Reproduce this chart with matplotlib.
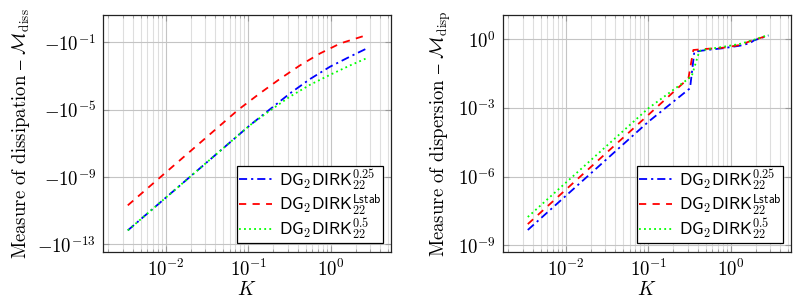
import numpy as np
import matplotlib
matplotlib.use('Agg')
import matplotlib.pyplot as plt
from matplotlib.ticker import FixedLocator, LogLocator, FuncFormatter, NullLocator, NullFormatter

plt.rcParams['mathtext.fontset'] = 'cm'
plt.rcParams['font.family'] = ['cmr10', 'DejaVu Serif']
plt.rcParams['axes.formatter.use_mathtext'] = True
plt.rcParams['axes.unicode_minus'] = False

labels = [r'$\mathsf{DG}_\mathsf{2}\mathsf{DIRK}_{\mathsf{22}}^{0.25}$',
          r'$\mathsf{DG}_\mathsf{2}\mathsf{DIRK}_{\mathsf{22}}^{\mathsf{Lstab}}$',
          r'$\mathsf{DG}_\mathsf{2}\mathsf{DIRK}_{\mathsf{22}}^{0.5}$']

# dissipation (magnitude, values are negative)
K_diss_blue = [3.47e-3, 0.105, 0.184, 0.321, 0.561, 0.979, 1.71, 2.86]
M_diss_blue = [6.8e-13, 1.2e-6, 1.07e-5, 9.3e-5, 6.6e-4, 3.55e-3, 1.41e-2, 4.8e-2]
K_diss_red = [3.47e-3, 0.0456, 0.0759, 0.139, 0.243, 0.425, 0.743, 1.30, 2.74]
M_diss_red = [2.09e-11, 1.15e-6, 1.0e-5, 9.5e-5, 6.8e-4, 4.3e-3, 2.19e-2, 8.5e-2, 0.27]
K_diss_green = [3.47e-3, 0.105, 0.184, 0.321, 0.561, 0.979, 1.71, 2.86]
M_diss_green = [6.8e-13, 1.2e-6, 8.9e-6, 6.0e-5, 3.0e-4, 1.17e-3, 4.2e-3, 1.26e-2]

# dispersion
K_disp_blue = [3.47e-3, 0.1, 0.321, 0.362, 0.512, 0.815, 1.30, 1.71, 1.91, 2.86]
M_disp_blue = [4.6e-9, 2.45e-4, 7.2e-3, 0.288, 0.339, 0.407, 0.525, 0.676, 0.89, 1.45]
K_disp_red = [3.47e-3, 0.1, 0.307, 0.352, 0.512, 0.815, 1.30, 1.88, 2.86]
M_disp_red = [8.3e-9, 4.9e-4, 1.95e-2, 0.339, 0.380, 0.427, 0.562, 0.93, 1.45]
K_disp_green = [3.47e-3, 0.1, 0.336, 0.417, 0.512, 0.815, 1.30, 1.88, 2.86]
M_disp_green = [1.7e-8, 9.5e-4, 2.4e-2, 0.309, 0.363, 0.468, 0.631, 0.93, 1.55]

styles = [dict(color='#0000ff', ls=(0, (4.5, 2.2, 1.2, 2.2))),
          dict(color='#ff0000', ls=(0, (4, 3.5))),
          dict(color='#00ff00', ls=(0, (1, 1.8)))]

fig = plt.figure(figsize=(7.93, 3.05), dpi=100)
ax1 = fig.add_axes([103 / 793, 1 - 252 / 305, 288 / 793, 237 / 305])
ax2 = fig.add_axes([503 / 793, 1 - 252 / 305, 288 / 793, 237 / 305])

diss = [(K_diss_blue, M_diss_blue), (K_diss_red, M_diss_red), (K_diss_green, M_diss_green)]
disp = [(K_disp_blue, M_disp_blue), (K_disp_red, M_disp_red), (K_disp_green, M_disp_green)]

for ax, data in [(ax1, diss), (ax2, disp)]:
    for (k, m), st, lab in zip(data, styles, labels):
        ax.plot(k, m, lw=1.3, label=lab, **st)
    ax.set_xscale('log')
    ax.set_yscale('log')
    ax.set_xlim(10 ** -2.76, 10 ** 0.73)
    ax.xaxis.set_major_locator(FixedLocator([1e-2, 1e-1, 1e0]))
    ax.xaxis.set_minor_locator(LogLocator(base=10, subs=np.arange(2, 10), numticks=20))
    ax.xaxis.set_minor_formatter(NullFormatter())
    ax.yaxis.set_minor_locator(NullLocator())
    ax.grid(True, which='major', color='#c4c4c4', lw=0.8)
    ax.grid(True, which='minor', axis='x', color='#dedede', lw=0.8)
    ax.set_axisbelow(True)
    ax.tick_params(which='both', direction='in', top=True, right=True, color='#999999',
                   labelsize=13.5, pad=5)
    ax.tick_params(which='major', length=4)
    ax.tick_params(which='minor', length=2)
    for s in ax.spines.values():
        s.set_color('#222222')
        s.set_linewidth(0.9)
    ax.set_xlabel('$K$', fontsize=14, labelpad=1)
    leg = ax.legend(loc='lower right', bbox_to_anchor=(0.973, 0.037), fontsize=12.5,
                    frameon=True, fancybox=False, edgecolor='black', framealpha=1,
                    handlelength=1.9, handletextpad=0.4, borderpad=0.1, labelspacing=0.0,
                    borderaxespad=0)
    leg.get_frame().set_linewidth(0.9)

ax1.set_ylim(10 ** -13.45, 10 ** 0.62)
ax1.yaxis.set_major_locator(FixedLocator([1e-13, 1e-9, 1e-5, 1e-1]))
ax1.yaxis.set_major_formatter(FuncFormatter(lambda v, p: r'$-10^{%d}$' % round(np.log10(v))))
ax1.set_ylabel(r'Measure of dissipation $–\ \mathcal{M}_{\mathrm{diss}}$', fontsize=13.5, labelpad=4)

ax2.set_ylim(10 ** -9.30, 10 ** 1.06)
ax2.yaxis.set_major_locator(FixedLocator([1e-9, 1e-6, 1e-3, 1e0]))
ax2.yaxis.set_major_formatter(FuncFormatter(lambda v, p: r'$10^{%d}$' % round(np.log10(v))))
ax2.set_ylabel(r'Measure of dispersion $–\ \mathcal{M}_{\mathrm{disp}}$', fontsize=13.5, labelpad=4)

plt.savefig('out.png', dpi=100)
